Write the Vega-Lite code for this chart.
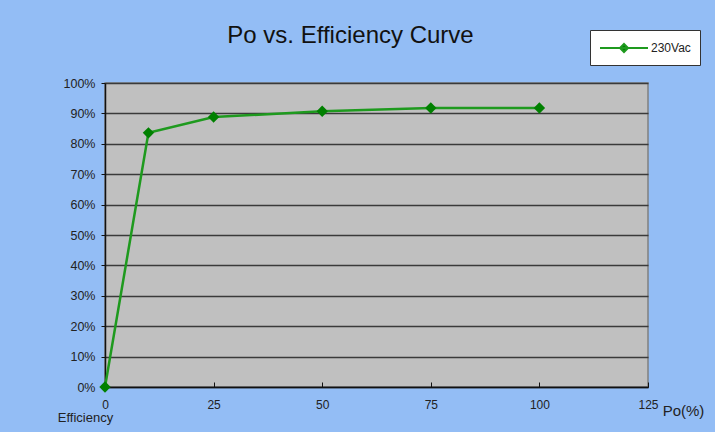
{
  "$schema": "https://vega.github.io/schema/vega-lite/v6.json",
  "width": 543,
  "height": 304,
  "autosize": {"type": "none"},
  "padding": {"left": 105, "top": 83, "right": 67, "bottom": 45},
  "background": "#93BDF5",
  "title": {
    "text": "Po  vs. Efficiency Curve",
    "font": "Liberation Sans",
    "fontSize": 24,
    "fontWeight": "normal",
    "color": "#111111",
    "anchor": "middle",
    "dx": -26,
    "offset": -37,
    "baseline": "alphabetic"
  },
  "config": {
    "view": {"fill": "#C0C0C0", "stroke": "#808080", "strokeWidth": 1.5},
    "axis": {
      "labelFont": "Liberation Sans",
      "titleFont": "Liberation Sans",
      "labelColor": "#222222",
      "titleColor": "#222222",
      "domainColor": "#111111",
      "domainWidth": 1.5,
      "tickColor": "#111111",
      "titleFontWeight": "normal"
    }
  },
  "data": {
    "values": [
      {"po": 0, "eff": 0.0, "series": "230Vac"},
      {"po": 10, "eff": 0.836, "series": "230Vac"},
      {"po": 25, "eff": 0.888, "series": "230Vac"},
      {"po": 50, "eff": 0.907, "series": "230Vac"},
      {"po": 75, "eff": 0.918, "series": "230Vac"},
      {"po": 100, "eff": 0.918, "series": "230Vac"}
    ]
  },
  "encoding": {
    "x": {
      "field": "po",
      "type": "quantitative",
      "scale": {"domain": [0, 125], "nice": false, "zero": false},
      "axis": {
        "values": [0, 25, 50, 75, 100, 125],
        "grid": false,
        "tickSize": -5,
        "labelFlush": false,
        "labelPadding": 22,
        "labelFontSize": 12,
        "labelBaseline": "middle",
        "title": "Po(%)",
        "titleFontSize": 15,
        "titleAngle": 0,
        "titleAlign": "center",
        "titleBaseline": "middle",
        "titleX": 578,
        "titleY": 23
      }
    },
    "y": {
      "field": "eff",
      "type": "quantitative",
      "scale": {"domain": [0, 1], "nice": false},
      "axis": {
        "values": [0, 0.1, 0.2, 0.3, 0.4, 0.5, 0.6, 0.7, 0.8, 0.9, 1.0],
        "format": ".0%",
        "grid": true,
        "gridColor": "#3a3a3a",
        "gridWidth": 1.5,
        "tickSize": 4,
        "labelPadding": 6,
        "labelFontSize": 12.5,
        "title": "Efficiency",
        "titleFontSize": 13,
        "titleAngle": 0,
        "titleAlign": "center",
        "titleBaseline": "middle",
        "titleX": -20,
        "titleY": 334
      }
    }
  },
  "layer": [
    {
      "mark": {"type": "line", "strokeWidth": 2.5, "clip": false},
      "encoding": {
        "color": {
          "field": "series",
          "type": "nominal",
          "scale": {"domain": ["230Vac"], "range": ["#1E9A1E"]},
          "legend": {
            "orient": "none",
            "legendX": 485,
            "legendY": -53,
            "title": null,
            "fillColor": "white",
            "strokeColor": "#333333",
            "padding": 9,
            "labelFont": "Liberation Sans",
            "labelFontSize": 12,
            "labelColor": "#222222",
            "labelOffset": 18,
            "symbolOffset": 16,
            "symbolType": "M-3,0H3M0,-0.5L0.5,0L0,0.5L-0.5,0Z",
            "symbolSize": 256,
            "symbolStrokeWidth": 2,
            "encode": {
              "symbols": {"update": {"fill": {"value": "#008000"}, "stroke": {"value": "#1E9A1E"}, "strokeWidth": {"value": 2}}}
            }
          }
        }
      }
    },
    {
      "mark": {"type": "point", "shape": "diamond", "filled": true, "size": 130, "color": "#008000", "opacity": 1, "clip": false},
      "encoding": {}
    }
  ]
}
